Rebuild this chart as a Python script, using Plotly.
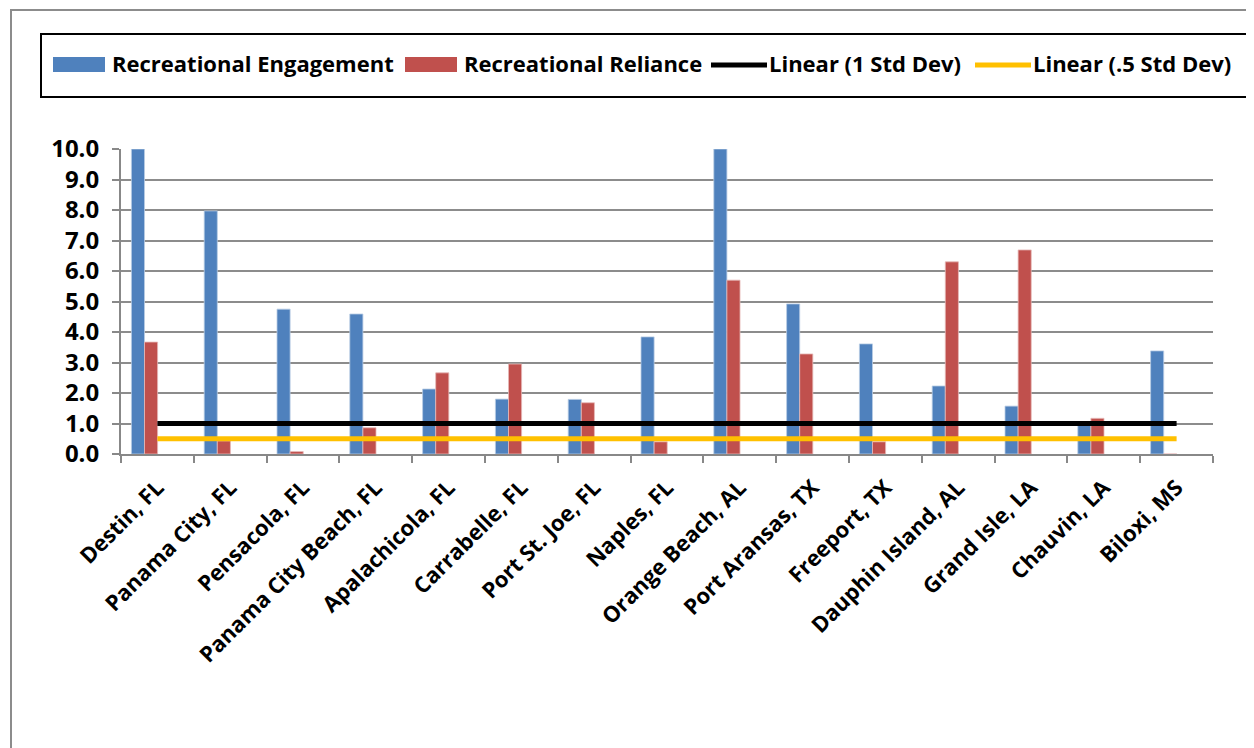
import plotly.graph_objects as go

categories = ["Destin, FL", "Panama City, FL", "Pensacola, FL", "Panama City Beach, FL",
              "Apalachicola, FL", "Carrabelle, FL", "Port St. Joe, FL", "Naples, FL",
              "Orange Beach, AL", "Port Aransas, TX", "Freeport, TX", "Dauphin Island, AL",
              "Grand Isle, LA", "Chauvin, LA", "Biloxi, MS"]
engagement = [10.0, 7.97, 4.75, 4.59, 2.13, 1.80, 1.79, 3.84, 10.0, 4.92, 3.61, 2.23, 1.57, 0.97, 3.38]
reliance = [3.67, 0.43, 0.08, 0.86, 2.66, 2.95, 1.68, 0.40, 5.70, 3.28, 0.40, 6.30, 6.69, 1.17, 0.0]
std_1 = [1.0, 1.0, 1.0, 1.0, 1.0, 1.0, 1.0, 1.0, 1.0, 1.0, 1.0, 1.0, 1.0, 1.0, 1.0]
std_half = [0.5, 0.5, 0.5, 0.5, 0.5, 0.5, 0.5, 0.5, 0.5, 0.5, 0.5, 0.5, 0.5, 0.5, 0.5]
y_ticks = [0, 1, 2, 3, 4, 5, 6, 7, 8, 9, 10]

FONT = "Open Sans"
OFF = 8  # page body margin
W, H = 1254 - OFF, 748 - OFF
L, T = 121 - OFF, 149 - OFF
R = W - (1213 - OFF)
B = H - (454 - OFF)
PW, PH = W - L - R, H - T - B

BLUE, RED, BLACK, GOLD = "#4F81BD", "#C0504D", "#000000", "#FFC000"


def px(p):
    return (p - OFF - L) / PW


def py(q):
    return (H - B - (q - OFF)) / PH


fig = go.Figure()
fig.add_trace(go.Bar(x=categories, y=engagement, name="Recreational Engagement",
                     marker=dict(color=BLUE, line=dict(color="#B9CDE5", width=0.8)),
                     width=0.18, offset=-0.357, showlegend=False))
fig.add_trace(go.Bar(x=categories, y=reliance, name="Recreational Reliance",
                     marker=dict(color=RED, line=dict(color="#E6B9B8", width=0.8)),
                     width=0.18, offset=-0.177, showlegend=False))
fig.add_trace(go.Scatter(x=categories, y=std_1, name="Linear (1 Std Dev)", mode="lines",
                         line=dict(color=BLACK, width=5), showlegend=False))
fig.add_trace(go.Scatter(x=categories, y=std_half, name="Linear (.5 Std Dev)", mode="lines",
                         line=dict(color=GOLD, width=5), showlegend=False))

# legend drawn as a boxed key
legend_items = [
    ("Recreational Engagement", BLUE, "bar", 53, 105, 110),
    ("Recreational Reliance", RED, "bar", 405, 457, 462),
    ("Linear (1 Std Dev)", BLACK, "line", 711, 767, 767),
    ("Linear (.5 Std Dev)", GOLD, "line", 975, 1031, 1031),
]
shapes = [
    dict(type="path", xref="paper", yref="paper",
         path=f"M {px(11)},{py(760)} L {px(11)},{py(10)} L {px(1270)},{py(10)}",
         line=dict(color="#8C8C8C", width=2)),
    dict(type="rect", xref="paper", yref="paper",
         x0=px(41), x1=px(1248), y0=py(97), y1=py(34),
         line=dict(color="black", width=2)),
]
annotations = []
LY = 65
for text, color, kind, x0, x1, tx in legend_items:
    if kind == "bar":
        shapes.append(dict(type="rect", xref="paper", yref="paper",
                           x0=px(x0), x1=px(x1), y0=py(LY + 7), y1=py(LY - 8),
                           fillcolor=color, line=dict(width=0)))
    else:
        shapes.append(dict(type="line", xref="paper", yref="paper",
                           x0=px(x0), x1=px(x1), y0=py(LY), y1=py(LY),
                           line=dict(color=color, width=5)))
    annotations.append(dict(text=text, xref="paper", yref="paper", x=px(tx), y=py(LY - 1.5),
                            xanchor="left", yanchor="middle", showarrow=False,
                            font=dict(family=FONT, size=22, weight="bold", color="black")))

fig.update_layout(
    width=W, height=H,
    margin=dict(l=L, r=R, t=T, b=B),
    paper_bgcolor="white", plot_bgcolor="white",
    font=dict(family=FONT, size=20, color="black", weight="bold"),
    barmode="overlay",
    showlegend=False,
    xaxis=dict(type="category", tickangle=-45, tickson="boundaries", ticks="outside",
               ticklen=7, tickcolor="#888888", tickwidth=2,
               showline=True, linecolor="#888888", linewidth=2,
               showgrid=False, tickfont=dict(family=FONT, size=22, weight="bold"),
               ticklabelstandoff=10, range=[-0.5, 14.5]),
    yaxis=dict(range=[0, 10], tickvals=y_ticks, tickformat=".1f", ticks="outside",
               ticklen=7, tickcolor="#888888", tickwidth=2,
               showline=True, linecolor="#888888", linewidth=2,
               showgrid=True, gridcolor="#8C8C8C", gridwidth=1.5, zeroline=False,
               ticklabelstandoff=8,
               tickfont=dict(family=FONT, size=24, weight="bold")),
    shapes=shapes,
    annotations=annotations,
)

fig.write_html("out.html")
